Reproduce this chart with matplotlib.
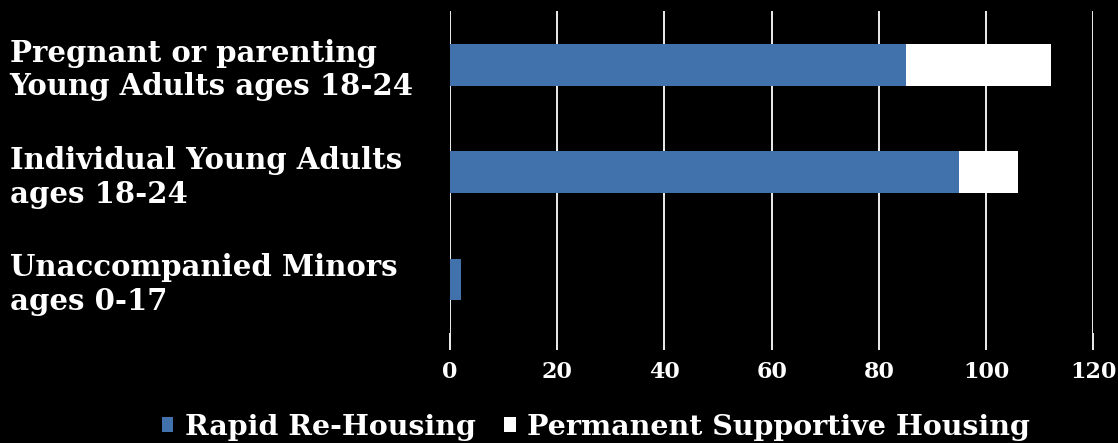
import numpy as np
import matplotlib.pyplot as plt

# datos
categorias = ["Pregnant or parenting\nYoung Adults ages 18-24",
              "Individual Young Adults\nages 18-24",
              "Unaccompanied Minors\nages 0-17"]
rapid_rehousing = [85, 95, 2]
permanent_supportive = [27, 11, 0]
ticks_x = [0, 20, 40, 60, 80, 100, 120]

azul = '#4272AC'
fuente = 'DejaVu Serif'

fig = plt.figure(figsize=(11.18, 4.43), dpi=100, facecolor='black')
ax = fig.add_axes([0.4025, 0.248, 0.978 - 0.4025, 0.975 - 0.248])
ax.set_facecolor('black')

y = np.arange(len(categorias))
ax.barh(y, rapid_rehousing, height=0.39, color=azul, label='Rapid Re-Housing', zorder=3)
ax.barh(y, permanent_supportive, left=rapid_rehousing, height=0.39, color='white',
        label='Permanent Supportive Housing', zorder=3)

ax.set_xlim(0, 120)
ax.set_ylim(len(categorias) - 0.5, -0.5)
ax.set_xticks(ticks_x)
ax.set_xticklabels([str(t) for t in ticks_x], family=fuente, fontweight='bold',
                   fontsize=16, color='white')
ax.xaxis.grid(True, color='white', linewidth=1.3, zorder=0)
ax.tick_params(axis='x', colors='white', length=12, width=1.3, pad=8)

ax.set_yticks(y)
ax.set_yticklabels(categorias, family=fuente, fontweight='bold', fontsize=21,
                   color='white', ha='left', linespacing=1.2)
ax.tick_params(axis='y', length=0, pad=317)

for s in ax.spines.values():
    s.set_visible(False)

leg = fig.legend(loc='center', bbox_to_anchor=(0.533, 0.036), ncol=2, frameon=False,
                 prop={'family': fuente, 'weight': 'bold', 'size': 20.5},
                 handlelength=0.4, handleheight=0.4, handletextpad=0.4, columnspacing=1.0)
for t in leg.get_texts():
    t.set_color('white')

fig.savefig('out.png', dpi=100, facecolor='black')
